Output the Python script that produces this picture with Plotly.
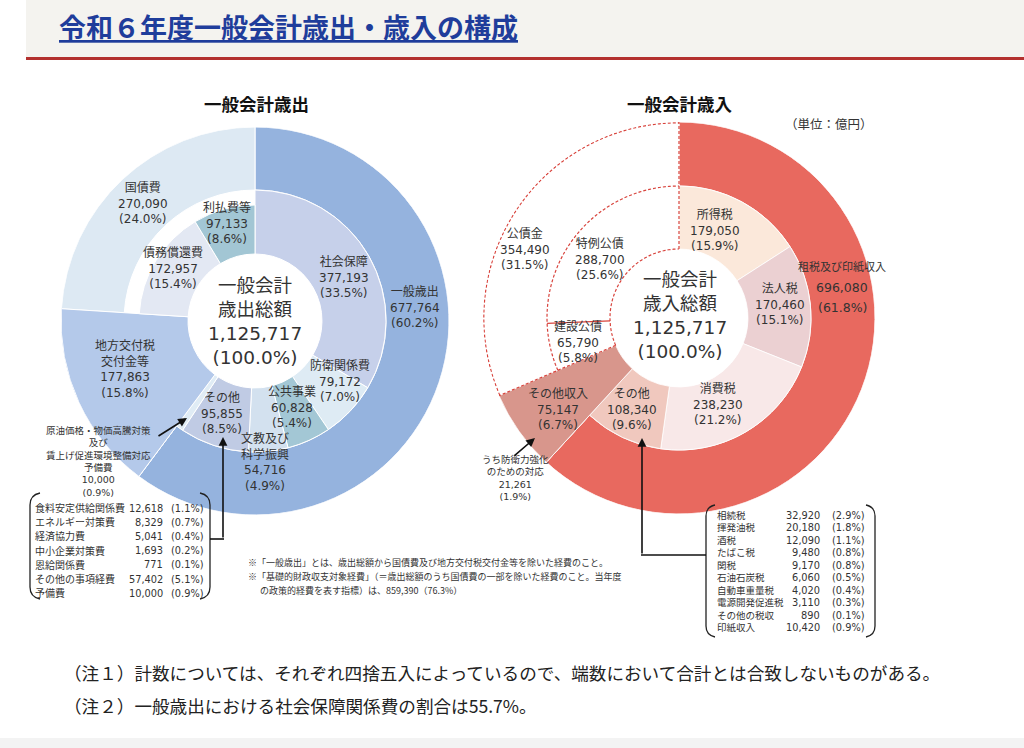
import numpy as np
import plotly.graph_objects as go

W, H = 1024, 748

# ---------------- data (億円) ----------------
exp_total = 1125717
exp_outer_labels = ["一般歳出", "地方交付税交付金等", "国債費"]
exp_outer_values = [677764, 177863, 270090]
exp_inner_labels = ["社会保障", "防衛関係費", "公共事業", "文教及び科学振興", "その他",
                    "予備費", "地方交付税交付金等", "債務償還費", "利払費等"]
exp_inner_values = [377193, 79172, 60828, 54716, 95855, 10000, 177863, 172957, 97133]

rev_total = 1125717
rev_outer_labels = ["租税及び印紙収入", "その他収入", "公債金"]
rev_outer_values = [696080, 75147, 354490]
rev_inner_labels = ["所得税", "法人税", "消費税", "その他", "その他収入", "建設公債", "特例公債"]
rev_inner_values = [179050, 170460, 238230, 108340, 75147, 65790, 288700]
rev_defense_value = 21261

exp_other_items = ["食料安定供給関係費", "エネルギー対策費", "経済協力費", "中小企業対策費",
                   "恩給関係費", "その他の事項経費", "予備費"]
exp_other_values = [12618, 8329, 5041, 1693, 771, 57402, 10000]

rev_other_items = ["相続税", "揮発油税", "酒税", "たばこ税", "関税", "石油石炭税",
                   "自動車重量税", "電源開発促進税", "その他の税収", "印紙収入"]
rev_other_values = [32920, 20180, 12090, 9480, 9170, 6060, 4020, 3110, 890, 10420]

primary_balance_value = 859390
social_security_share = 55.7

# ---------------- styles ----------------
FONT = "DejaVu Sans, Noto Sans CJK JP"
JP = "Noto Sans CJK JP"
TXT = "#333333"

exp_outer_colors = ["#95b3de", "#b4c9ea", "#dde9f3"]
exp_inner_colors = ["#c6d0ea", "#deebf4", "#a3c7d5", "#d3e1ef", "#c0cbe4",
                    "#e0ecf5", "#b4c9ea", "#e3e8f3", "#a2c6d4"]
rev_outer_colors = ["#e8695f", "#d8968c", "#ffffff"]
rev_inner_colors = ["#fbe8da", "#ebd0d2", "#f8e8e8", "#f0c8be", "#d8968c", "#ffffff", "#ffffff"]

L = dict(cx=255, cy=321, R=194, mid=131, hole=67)
Rg = dict(cx=679, cy=318, R=196, mid=132, hole=69)


def fmt(v):
    return f"{v:,}"


def pct(v, total):
    return f"({v / total * 100:.1f}%)"


def geom(values, total):
    v = np.array(values, dtype=float)
    start = np.concatenate([[0], np.cumsum(v)[:-1]])
    return ((start + v / 2) / total * 360).tolist(), (v / total * 360).tolist(), (start / total * 360).tolist()


def dom(c):
    return dict(x=[(c["cx"] - c["R"]) / W, (c["cx"] + c["R"]) / W],
                y=[1 - (c["cy"] + c["R"]) / H, 1 - (c["cy"] - c["R"]) / H])


fig = go.Figure()
fig.add_trace(go.Scatter(x=[0, W], y=[0, H], mode="markers", marker=dict(opacity=0),
                         hoverinfo="skip", showlegend=False))

# ---- left: expenditure ----
th, wd, st = geom(exp_outer_values, exp_total)
fig.add_trace(go.Barpolar(theta=th, width=wd, base=[L["mid"]] * 3, r=[L["R"] - L["mid"]] * 3,
                          marker=dict(color=exp_outer_colors, line=dict(color="white", width=1)),
                          text=exp_outer_labels, hoverinfo="text", subplot="polar", showlegend=False))
th, wd, st = geom(exp_inner_values, exp_total)
inner_r = []
for lab in exp_inner_labels:
    if lab == "地方交付税交付金等":
        inner_r.append(L["R"] - L["hole"])
    elif lab in ("債務償還費", "利払費等"):
        inner_r.append(116 - L["hole"])
    else:
        inner_r.append(L["mid"] - L["hole"])
fig.add_trace(go.Barpolar(theta=th, width=wd, base=[L["hole"]] * len(th), r=inner_r,
                          marker=dict(color=exp_inner_colors, line=dict(color="white", width=1)),
                          text=exp_inner_labels, hoverinfo="text", subplot="polar", showlegend=False))

# ---- right: revenue ----
th, wd, st = geom(rev_outer_values, rev_total)
fig.add_trace(go.Barpolar(theta=th, width=wd, base=[Rg["mid"]] * 3, r=[Rg["R"] - Rg["mid"]] * 3,
                          marker=dict(color=rev_outer_colors, line=dict(color="white", width=1)),
                          text=rev_outer_labels, hoverinfo="text", subplot="polar2", showlegend=False))
th, wd, st_in = geom(rev_inner_values, rev_total)
inner_r = [(Rg["R"] - Rg["hole"]) if lab == "その他収入" else (Rg["mid"] - Rg["hole"]) for lab in rev_inner_labels]
fig.add_trace(go.Barpolar(theta=th, width=wd, base=[Rg["hole"]] * len(th), r=inner_r,
                          marker=dict(color=rev_inner_colors, line=dict(color="white", width=0.8)),
                          text=rev_inner_labels, hoverinfo="text", subplot="polar2", showlegend=False))

# dashed outlines of 公債金
a0 = sum(rev_outer_values[:2]) / rev_total * 360
a1 = (sum(rev_outer_values[:2]) + rev_inner_values[5]) / rev_total * 360
RED = "#d8433c"
arc = np.linspace(a0, 360, 80)
for rad in (Rg["R"] - 0.8, Rg["mid"], Rg["hole"]):
    fig.add_trace(go.Scatterpolar(theta=arc, r=[rad] * len(arc), mode="lines",
                                  line=dict(color=RED, width=1.2, dash="3px,2px"),
                                  hoverinfo="skip", subplot="polar2", showlegend=False))
for ang in (0, a0):
    fig.add_trace(go.Scatterpolar(theta=[ang, ang], r=[Rg["hole"], Rg["R"]], mode="lines",
                                  line=dict(color=RED, width=1.2, dash="3px,2px"),
                                  hoverinfo="skip", subplot="polar2", showlegend=False))
fig.add_trace(go.Scatterpolar(theta=[a1, a1], r=[Rg["hole"], Rg["mid"]], mode="lines",
                              line=dict(color=RED, width=1.2),
                              hoverinfo="skip", subplot="polar2", showlegend=False))

ann = []


def A(x, y, text, size=12, color=TXT, xanchor="center", family=FONT, **kw):
    ann.append(dict(x=x, y=y, xref="x", yref="y", text=text, showarrow=False,
                    font=dict(size=size, color=color, family=family),
                    xanchor=xanchor, yanchor="middle", **kw))


def arrow(x0, y0, x1, y1):
    ann.append(dict(x=x1, y=y1, ax=x0, ay=y0, xref="x", yref="y", axref="x", ayref="y",
                    text="", showarrow=True, arrowhead=2, arrowsize=1.1, arrowwidth=1.6,
                    arrowcolor="#111111", standoff=0, startstandoff=0))


def seg(name, v, total):
    return f"{name}<br>{fmt(v)}<br>{pct(v, total)}"


# header
A(57, 26, "<b><u>令和６年度一般会計歳出・歳入の構成</u></b>", size=27, color="#1f3d9b",
  xanchor="left", family=JP)

A(256, 103, "<b>一般会計歳出</b>", size=17.5, color="#111111", family=JP)
A(680, 103, "<b>一般会計歳入</b>", size=17.5, color="#111111", family=JP)
A(829, 123, "（単位：億円）", size=12.5, color="#333333", family=JP)

# centers
A(255, 321, f"一般会計<br>歳出総額<br>{fmt(exp_total)}<br>(100.0%)", size=18.5)
A(680, 315, f"一般会計<br>歳入総額<br>{fmt(rev_total)}<br>(100.0%)", size=18.5)

# left segment labels
ev = dict(zip(exp_inner_labels, exp_inner_values))
eo = dict(zip(exp_outer_labels, exp_outer_values))
A(415, 307, seg("一般歳出", eo["一般歳出"], exp_total))
A(143, 203, seg("国債費", eo["国債費"], exp_total))
A(125, 369, f"地方交付税<br>交付金等<br>{fmt(eo['地方交付税交付金等'])}<br>{pct(eo['地方交付税交付金等'], exp_total)}")
A(344, 277, seg("社会保障", ev["社会保障"], exp_total))
A(340, 381, seg("防衛関係費", ev["防衛関係費"], exp_total))
A(292, 407, seg("公共事業", ev["公共事業"], exp_total))
A(265, 462, f"文教及び<br>科学振興<br>{fmt(ev['文教及び科学振興'])}<br>{pct(ev['文教及び科学振興'], exp_total)}")
A(222, 413, seg("その他", ev["その他"], exp_total))
A(173, 268, seg("債務償還費", ev["債務償還費"], exp_total))
A(227, 223, seg("利払費等", ev["利払費等"], exp_total))
A(98, 461, f"原油価格・物価高騰対策<br>及び<br>賃上げ促進環境整備対応<br>予備費<br>{fmt(ev['予備費'])}<br>{pct(ev['予備費'], exp_total)}",
  size=9.5)
arrow(157, 437, 187, 418)

# right segment labels
rv = dict(zip(rev_inner_labels, rev_inner_values))
ro = dict(zip(rev_outer_labels, rev_outer_values))
A(842, 267, "租税及び印紙収入", size=11)
A(842, 287, fmt(ro["租税及び印紙収入"]), size=12.5)
A(842, 307, pct(ro["租税及び印紙収入"], rev_total), size=12.5)
A(715, 230, seg("所得税", rv["所得税"], rev_total))
A(780, 304, seg("法人税", rv["法人税"], rev_total))
A(718, 404, seg("消費税", rv["消費税"], rev_total))
A(632, 409, seg("その他", rv["その他"], rev_total))
A(558, 409, seg("その他収入", rv["その他収入"], rev_total))
A(578, 342, seg("建設公債", rv["建設公債"], rev_total))
A(600, 259, seg("特例公債", rv["特例公債"], rev_total))
A(525, 249, seg("公債金", ro["公債金"], rev_total))
A(515, 478, f"うち防衛力強化<br>のための対応<br>{fmt(rev_defense_value)}<br>{pct(rev_defense_value, rev_total)}", size=9.5)
arrow(513, 457, 535, 438)

# left table
for i, (n, v) in enumerate(zip(exp_other_items, exp_other_values)):
    y = 508 + i * 14.2
    A(33, y, n, size=10, xanchor="left")
    A(165, y, fmt(v), size=9.8, xanchor="right")
    A(206, y, pct(v, exp_total), size=9.8, xanchor="right")

# right table
for i, (n, v) in enumerate(zip(rev_other_items, rev_other_values)):
    y = 515 + i * 12.5
    A(715, y, n, size=9.5, xanchor="left")
    A(822, y, fmt(v), size=9.8, xanchor="right")
    A(867, y, pct(v, rev_total), size=9.8, xanchor="right")

arrow(223, 539, 223, 437)
arrow(642, 555, 642, 438)

# notes
A(246, 562, "※「一般歳出」とは、歳出総額から国債費及び地方交付税交付金等を除いた経費のこと。", size=9, xanchor="left", family=JP)
A(246, 576, "※「基礎的財政収支対象経費」（＝歳出総額のうち国債費の一部を除いた経費のこと。当年度", size=9, xanchor="left", family=JP)
A(258, 590, f"の政策的経費を表す指標）は、{fmt(primary_balance_value)}（{primary_balance_value / exp_total * 100:.1f}%）",
  size=9, xanchor="left", family=JP)

A(62, 672, "（注１）計数については、それぞれ四捨五入によっているので、端数において合計とは合致しないものがある。",
  size=17.6, color="#222222", xanchor="left", family=JP)
A(62, 705, f"（注２）一般歳出における社会保障関係費の割合は{social_security_share}%。",
  size=17.6, color="#222222", xanchor="left", family=JP)

shapes = [
    dict(type="rect", x0=26, x1=W, y0=0, y1=57, fillcolor="#f4f3ef", line=dict(width=0), layer="below",
         xref="x", yref="y"),
    dict(type="line", x0=26, x1=W, y0=58.5, y1=58.5, line=dict(color="#b3302e", width=3), xref="x", yref="y"),
    dict(type="rect", x0=0, x1=W, y0=738, y1=H, fillcolor="#f3f3f3", line=dict(width=0), layer="below",
         xref="x", yref="y"),
    # brackets
    dict(type="path", path="M 40,493 Q 30,495 30,505 L 30,587 Q 30,597 40,599", line=dict(color="#222", width=1.3),
         xref="x", yref="y"),
    dict(type="path", path="M 200,493 Q 210,495 210,505 L 210,587 Q 210,597 200,599", line=dict(color="#222", width=1.3),
         xref="x", yref="y"),
    dict(type="path", path="M 715,505 Q 706,507 706,516 L 706,626 Q 706,635 715,637", line=dict(color="#222", width=1.3),
         xref="x", yref="y"),
    dict(type="path", path="M 866,505 Q 875,507 875,516 L 875,626 Q 875,635 866,637", line=dict(color="#222", width=1.3),
         xref="x", yref="y"),
    dict(type="line", x0=210, x1=224, y0=539, y1=539, line=dict(color="#111", width=1.6), xref="x", yref="y"),
    dict(type="line", x0=706, x1=641, y0=555, y1=555, line=dict(color="#111", width=1.6), xref="x", yref="y"),
]

polar_common = dict(bgcolor="rgba(0,0,0,0)",
                    angularaxis=dict(rotation=90, direction="clockwise", visible=False),
                    bargap=0)

fig.update_layout(
    width=W, height=H, margin=dict(l=0, r=0, t=0, b=0),
    paper_bgcolor="white", plot_bgcolor="rgba(0,0,0,0)", showlegend=False,
    xaxis=dict(range=[0, W], domain=[0, 1], visible=False, fixedrange=True),
    yaxis=dict(range=[H, 0], domain=[0, 1], visible=False, fixedrange=True),
    polar=dict(domain=dom(L), radialaxis=dict(range=[0, L["R"]], visible=False), **polar_common),
    polar2=dict(domain=dom(Rg), radialaxis=dict(range=[0, Rg["R"]], visible=False), **polar_common),
    annotations=ann, shapes=shapes,
)

fig.write_html("out.html")
